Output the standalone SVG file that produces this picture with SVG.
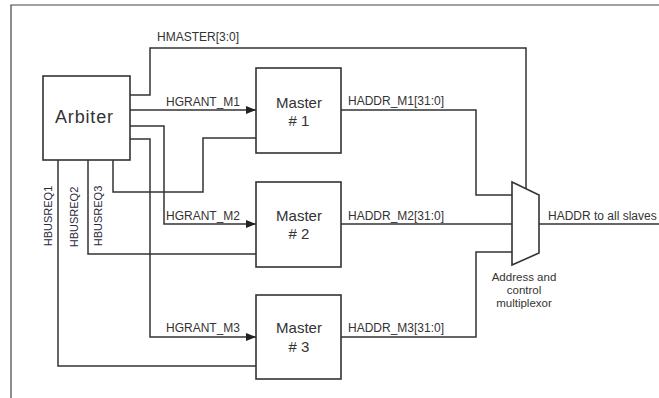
<svg xmlns="http://www.w3.org/2000/svg" width="659" height="398" viewBox="0 0 659 398">
<style>
.frame{fill:none;stroke:#444;stroke-width:1.2}
.box{fill:#fff;stroke:#333;stroke-width:1.6}
.wire{fill:none;stroke:#333;stroke-width:1.5}
.lbl{font-family:"Liberation Sans",Arial,sans-serif;font-size:12px;fill:#333}
.vlbl{font-family:"Liberation Sans",Arial,sans-serif;font-size:11px;fill:#2a2a3a;text-anchor:middle}
.big{font-family:"Liberation Sans",Arial,sans-serif;font-size:18px;fill:#333;text-anchor:middle}
.mst{font-family:"Liberation Sans",Arial,sans-serif;font-size:15px;fill:#333;text-anchor:middle}
.cap{font-family:"Liberation Sans",Arial,sans-serif;font-size:11.5px;fill:#333;text-anchor:middle}
</style>
<defs>
<marker id="arr" viewBox="0 0 10 8" refX="10" refY="4" markerWidth="10" markerHeight="8" markerUnits="userSpaceOnUse" orient="auto">
<path d="M0,0 L10,4 L0,8 Z" fill="#222"/>
</marker>
</defs>
<rect width="659" height="398" fill="#fff"/>
<path class="frame" d="M11,398 V5 H659"/>

<g id="connectors">
<path class="wire" d="M130,95 H150 V48 H526 V189"/>
<path class="wire" d="M130,110 H256" marker-end="url(#arr)"/>
<path class="wire" d="M130,126 H164 V224 H256" marker-end="url(#arr)"/>
<path class="wire" d="M130,139 H150 V337 H256" marker-end="url(#arr)"/>
<path class="wire" d="M256,138 H203 V192 H113 V160"/>
<path class="wire" d="M256,254 H88 V160"/>
<path class="wire" d="M256,366 H58 V160"/>
<path class="wire" d="M341,110 H476 V195 H512"/>
<path class="wire" d="M341,224 H512"/>
<path class="wire" d="M341,337 H476 V252 H512"/>
<path class="wire" d="M539,224 H659"/>
<text class="lbl" x="157" y="41">HMASTER[3:0]</text>
<text class="lbl" x="166" y="106">HGRANT_M1</text>
<text class="lbl" x="166" y="220">HGRANT_M2</text>
<text class="lbl" x="166" y="332">HGRANT_M3</text>
<text class="lbl" x="348" y="105">HADDR_M1[31:0]</text>
<text class="lbl" x="348" y="220">HADDR_M2[31:0]</text>
<text class="lbl" x="348" y="332">HADDR_M3[31:0]</text>
<text class="lbl" x="548" y="220">HADDR to all slaves</text>
<text class="vlbl" transform="translate(52,216) rotate(-90)">HBUSREQ1</text>
<text class="vlbl" transform="translate(78,217) rotate(-90)">HBUSREQ2</text>
<text class="vlbl" transform="translate(102,216) rotate(-90)">HBUSREQ3</text>
</g>

<g id="arbiter">
<rect class="box" x="43" y="76" width="87" height="84"/>
<text class="big" x="84" y="123" textLength="58">Arbiter</text>
</g>

<g id="master1">
<rect class="box" x="256" y="68" width="85" height="85"/>
<text class="mst" x="299" y="108">Master</text>
<text class="mst" x="299" y="126"># 1</text>
</g>

<g id="master2">
<rect class="box" x="256" y="182" width="85" height="85"/>
<text class="mst" x="299" y="221">Master</text>
<text class="mst" x="299" y="239"># 2</text>
</g>

<g id="master3">
<rect class="box" x="256" y="295" width="85" height="84"/>
<text class="mst" x="299" y="333">Master</text>
<text class="mst" x="299" y="352"># 3</text>
</g>

<g id="mux">
<path class="box" d="M512,182 L539,195 V253 L512,265 Z"/>
<text class="cap" x="524" y="281">Address and</text>
<text class="cap" x="524" y="294">control</text>
<text class="cap" x="524" y="307">multiplexor</text>
</g>
</svg>
